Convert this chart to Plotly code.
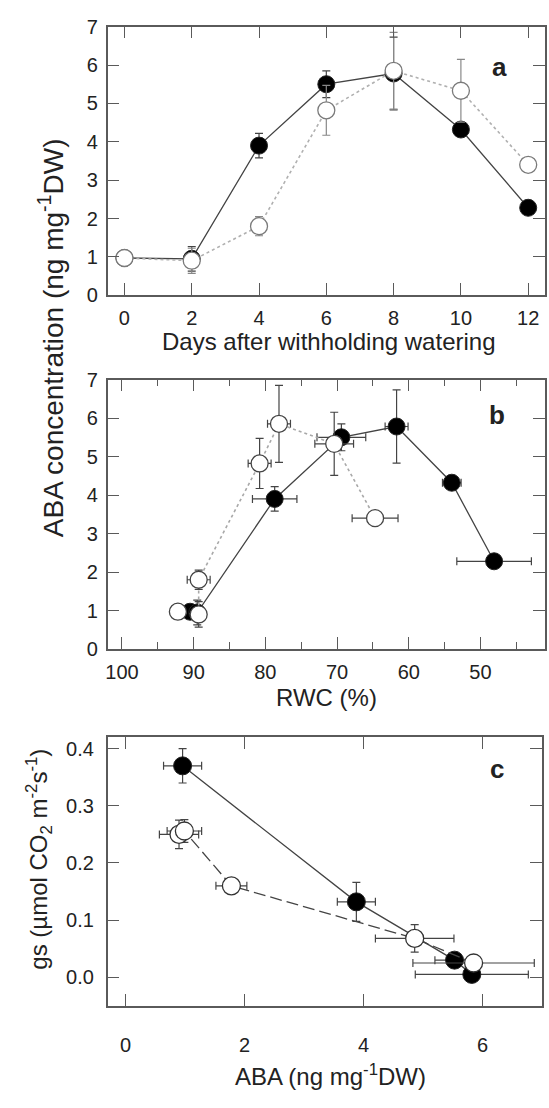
import plotly.graph_objects as go

# panel a: ABA vs days
days = [0, 2, 4, 6, 8, 10, 12]
aba_filled = [0.97, 0.95, 3.9, 5.5, 5.78, 4.32, 2.28]
aba_filled_err = [0, 0.32, 0.32, 0.35, 0.95, 0, 0]
aba_open = [0.97, 0.9, 1.8, 4.82, 5.85, 5.33, 3.4]
aba_open_err = [0, 0.33, 0.25, 0.65, 1.0, 0.82, 0]

# panel b: ABA vs RWC
rwc_filled = [90.5, 89.5, 78.7, 69.4, 61.7, 54.0, 48.1]
rwc_filled_err = [0, 0, 3.1, 3.4, 1.6, 1.3, 5.2]
rwc_open = [92.2, 89.3, 89.3, 80.8, 78.1, 70.4, 64.7]
rwc_open_err = [0, 0, 1.6, 1.6, 1.6, 2.7, 3.2]

# panel c: gs vs ABA
c_aba_filled = [0.96, 3.88, 5.53, 5.82]
c_aba_filled_err = [0.32, 0.32, 0.33, 0.95]
gs_filled = [0.370, 0.132, 0.030, 0.005]
gs_filled_err = [0.03, 0.034, 0.005, 0]
c_aba_open = [0.90, 0.99, 1.78, 4.86, 5.85]
c_aba_open_err = [0.33, 0.29, 0.26, 0.66, 1.02]
gs_open = [0.250, 0.256, 0.160, 0.068, 0.025]
gs_open_err = [0.025, 0.02, 0.006, 0.024, 0]

W, H = 549, 1108
FONT = "Liberation Sans, Arial, sans-serif"
DARK = "#444444"
FRAME = "#5a5a5a"
TXT = "#222222"


def px_x(px):
    return px / W


def px_y(py):
    return 1 - py / H


def err(vals, color, visible=True):
    return {"type": "data", "array": vals, "visible": visible, "color": color, "thickness": 1.2, "width": 4}


fig = go.Figure()

# ---- panel a
fig.add_trace(go.Scatter(x=days, y=aba_filled, mode="lines+markers", error_y=err(aba_filled_err, DARK),
                         line={"color": DARK, "width": 1.3},
                         marker={"size": 17, "color": "#000000", "line": {"color": "#222222", "width": 1}},
                         xaxis="x", yaxis="y"))
fig.add_trace(go.Scatter(x=days, y=aba_open, mode="lines+markers", error_y=err(aba_open_err, "#888888"),
                         line={"color": "#b0b0b0", "width": 1.6, "dash": "dot"},
                         marker={"size": 17, "color": "#ffffff", "line": {"color": "#7a7a7a", "width": 1.3}},
                         xaxis="x", yaxis="y"))

# ---- panel b
fig.add_trace(go.Scatter(x=rwc_filled, y=aba_filled, mode="lines+markers", error_y=err(aba_filled_err, DARK),
                         error_x=err(rwc_filled_err, DARK),
                         line={"color": DARK, "width": 1.3},
                         marker={"size": 17, "color": "#000000", "line": {"color": "#222222", "width": 1}},
                         xaxis="x2", yaxis="y2"))
fig.add_trace(go.Scatter(x=rwc_open, y=aba_open, mode="lines+markers", error_y=err(aba_open_err, DARK),
                         error_x=err(rwc_open_err, DARK),
                         line={"color": "#a8a8a8", "width": 1.6, "dash": "dot"},
                         marker={"size": 17, "color": "#ffffff", "line": {"color": "#444444", "width": 1.3}},
                         xaxis="x2", yaxis="y2"))

# ---- panel c
fig.add_trace(go.Scatter(x=c_aba_filled, y=gs_filled, mode="lines+markers", error_y=err(gs_filled_err, DARK),
                         error_x=err(c_aba_filled_err, DARK),
                         line={"color": DARK, "width": 1.3},
                         marker={"size": 18, "color": "#000000", "line": {"color": "#222222", "width": 1}},
                         xaxis="x3", yaxis="y3"))
fig.add_trace(go.Scatter(x=c_aba_open, y=gs_open, mode="lines+markers", error_y=err(gs_open_err, DARK),
                         error_x=err(c_aba_open_err, DARK),
                         line={"color": DARK, "width": 1.3, "dash": "12px,5px"},
                         marker={"size": 18, "color": "#ffffff", "line": {"color": "#333333", "width": 1.3}},
                         xaxis="x3", yaxis="y3"))

axis_common = dict(showline=True, linecolor=FRAME, linewidth=1.5, mirror="ticks", ticks="inside",
                   ticklen=12, tickwidth=1.3, tickcolor=FRAME, showgrid=False, zeroline=False,
                   tickfont={"family": FONT, "size": 20, "color": TXT})

xdom = [px_x(106), px_x(545)]
fig.update_layout(
    xaxis=dict(axis_common, domain=xdom, anchor="y", range=[-0.5, 12.5], tick0=0, dtick=2, ticklabelstandoff=4),
    yaxis=dict(axis_common, domain=[px_y(290), px_y(16)], anchor="x", range=[0, 7], dtick=1, ticklabelstandoff=4),
    xaxis2=dict(axis_common, domain=xdom, anchor="y2", range=[102, 41], tick0=0, dtick=10, ticklabelstandoff=4,
                minor={"ticks": "inside", "ticklen": 7, "dtick": 5, "tick0": 0, "tickcolor": FRAME, "tickwidth": 1.3}),
    yaxis2=dict(axis_common, domain=[px_y(651), px_y(376)], anchor="x2", range=[0, 7], dtick=1, ticklabelstandoff=4),
    xaxis3=dict(axis_common, domain=[px_x(106), px_x(542)], anchor="y3", range=[-0.3, 7.0], tick0=0, dtick=2,
                ticklabelstandoff=20),
    yaxis3=dict(axis_common, domain=[px_y(1015), px_y(741)], anchor="x3", range=[-0.05, 0.42], tick0=0, dtick=0.1,
                tickformat=".1f", ticklabelstandoff=8),
)

annos = [
    ("Days after withholding watering", 328, 337, 24, 0, False),
    ("RWC (%)", 326, 700, 24, 0, False),
    ("ABA (ng mg<sup>-1</sup>DW)", 330, 1086, 24, 0, False),
    ("ABA concentration (ng mg<sup>-1</sup>DW)", 50, 333, 28, -90, False),
    ("gs (µmol CO<sub>2</sub> m<sup>-2</sup>s<sup>-1</sup>)", 37, 865, 24, -90, False),
    ("a", 499, 57, 26, 0, True),
    ("b", 497, 412, 26, 0, True),
    ("c", 497, 773, 26, 0, True),
]
for text, ax, ay, size, angle, bold in annos:
    fig.add_annotation(text=f"<b>{text}</b>" if bold else text, x=px_x(ax), y=px_y(ay), xref="paper", yref="paper",
                       xanchor="center", yanchor="middle", showarrow=False, textangle=angle,
                       font={"family": FONT, "size": size, "color": TXT})

fig.update_layout(width=W, height=H, margin={"l": 0, "r": 0, "t": 0, "b": 0}, showlegend=False,
                  plot_bgcolor="#ffffff", paper_bgcolor="#ffffff", font={"family": FONT, "color": TXT})
# the page body gets a default margin; drop it so the figure sits at the window origin
fig.write_html("out.html", config={"displayModeBar": False},
               post_script="document.body.style.margin='0px';document.body.style.overflow='hidden';")
